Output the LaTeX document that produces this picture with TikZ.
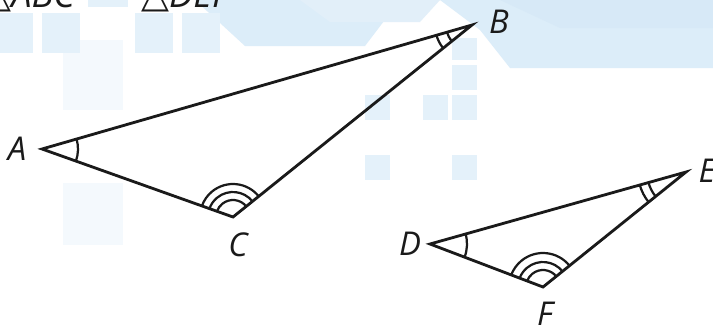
\documentclass[tikz,border=0pt]{standalone}
\usepackage{fontspec}
\setmainfont{Open Sans}
\newfontfamily\symfont{DejaVu Sans}
\usetikzlibrary{angles}
\definecolor{sq}{HTML}{E4F1FA}
\definecolor{sqf}{HTML}{F4F9FD}
\definecolor{bgA}{HTML}{DCEDF9}
\definecolor{bgB}{HTML}{C6E0F4}
\definecolor{ink}{HTML}{1A1A1A}
\tikzset{
  tri/.style={draw=ink, line width=2.4pt, line join=miter},
  angmark/.style={draw=ink, line width=1.9pt},
  lbl/.style={font=\fontsize{28}{30}\selectfont\itshape, text=ink, inner sep=0pt},
  ttl/.style={font=\fontsize{31}{33}\selectfont\itshape, text=ink, inner sep=0pt},
  sqr/.style={fill=sq, draw=none},
}
\begin{document}
\begin{tikzpicture}[x=0.03cm, y=-0.03cm]
\useasboundingbox (0,0) rectangle (713,329);
% background
\fill[white] (0,0) rectangle (713,329);
\fill[bgA] (195,0) -- (245,46) -- (365,46) -- (400,0) -- cycle;
\fill[bgA] (380,0) -- (440,0) -- (480,30) -- (510,68) -- (713,68) -- (713,0) -- cycle;
\fill[bgB!70] (500,0) -- (560,28) -- (713,28) -- (713,0) -- cycle;
\fill[bgB!50] (300,0) -- (330,22) -- (420,22) -- (440,0) -- cycle;
\fill[sqf] (63,40) rectangle (123,110);
\fill[sqf] (63,183) rectangle (123,245);
\fill[sqr] (0,13) rectangle (33,53);
\fill[sqr] (42,13) rectangle (80,53);
\fill[sqr] (135,13) rectangle (173,53);
\fill[sqr] (182,13) rectangle (220,53);
\fill[sqr] (88,0) rectangle (128,7);
\fill[sqr] (365,95) rectangle (390,120);
\fill[sqr] (423,95) rectangle (448,120);
\fill[sqr] (452,95) rectangle (477,120);
\fill[sqr] (452,65) rectangle (477,90);
\fill[sqr] (452,38) rectangle (477,60);
\fill[sqr] (365,155) rectangle (390,180);
\fill[sqr] (452,155) rectangle (477,180);
% title (cut off at top)
\node[ttl, anchor=base east] (t1) at (75,7) {{\symfont △}ABC};
\node[ttl, anchor=base west] (t2) at (141,7) {{\symfont △}DEF};
% vertices
\coordinate (A) at (42,149);
\coordinate (B) at (472,25);
\coordinate (C) at (233,217);
\coordinate (D) at (430,244);
\coordinate (E) at (686,172);
\coordinate (F) at (543,287);
% triangles
\draw[tri] (A) -- (B) -- (C) -- cycle;
\draw[tri] (D) -- (E) -- (F) -- cycle;
% angle marks
\pic[angmark, angle radius=1.08cm] {angle=C--A--B};
\pic[angmark, angle radius=0.78cm] {angle=A--B--C};
\pic[angmark, angle radius=1.11cm] {angle=A--B--C};
\pic[angmark, angle radius=0.51cm] {angle=B--C--A};
\pic[angmark, angle radius=0.75cm] {angle=B--C--A};
\pic[angmark, angle radius=0.99cm] {angle=B--C--A};
\pic[angmark, angle radius=1.11cm] {angle=F--D--E};
\pic[angmark, angle radius=1.17cm] {angle=D--E--F};
\pic[angmark, angle radius=1.44cm] {angle=D--E--F};
\pic[angmark, angle radius=0.51cm] {angle=E--F--D};
\pic[angmark, angle radius=0.75cm] {angle=E--F--D};
\pic[angmark, angle radius=1.02cm] {angle=E--F--D};
% labels
\node[lbl] (lA) at (17,149) {A};
\node[lbl] (lB) at (499,22) {B};
\node[lbl] (lC) at (238,245) {C};
\node[lbl] (lD) at (410,244) {D};
\node[lbl] (lE) at (707,171) {E};
\node[lbl] (lF) at (545,314) {F};
\end{tikzpicture}
\end{document}
